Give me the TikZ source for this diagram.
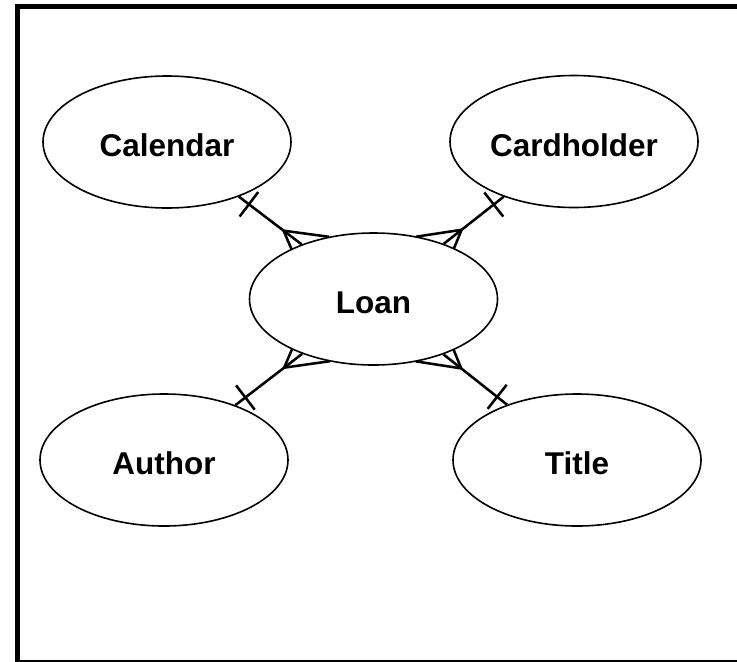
\documentclass[tikz,border=0pt]{standalone}
\usepackage{fontspec}
\setmainfont{Liberation Sans}
\usetikzlibrary{shapes.geometric,calc,backgrounds}

\begin{document}
\begin{tikzpicture}[
  x=0.75pt,y=-0.75pt,
  entity/.style={draw,ellipse,line width=1.2pt,fill=white,inner sep=0pt,
    minimum width=186pt,minimum height=99pt,text height=22pt,text depth=0pt,
    font=\fontsize{23.6}{28}\selectfont\bfseries},
  link/.style={line width=1.9pt},
  frame/.style={line width=3.75pt}
]
  \useasboundingbox (0,0) rectangle (737,661);
  \begin{scope}
    \clip (0,0) rectangle (737,661);
    \draw[frame] (17.5,6.7) rectangle (742,662.5);
  \end{scope}

  \node[entity] (loan) at (373.5,299) {Loan};
  \node[entity] (calendar) at (167,142) {Calendar};
  \node[entity] (cardholder) at (574,141.5) {Cardholder};
  \node[entity] (author) at (164,460) {Author};
  \node[entity] (title) at (577,460) {Title};

  % bar on the outer entity, crow's foot on loan
  \begin{scope}[on background layer]
    \foreach \one in {calendar,cardholder,author,title} {
      \path (\one) -- (loan) coordinate[pos=0] (s) coordinate[pos=1] (e);
      \draw[link] (\one) -- (loan);
      \draw[link] ($(s)!9.5pt!(e)!11.5pt!90:(e)$) -- ($(s)!9.5pt!(e)!11.5pt!-90:(e)$);
      \coordinate (foot) at ($(e)!17pt!(s)$);
      \draw[link] ($(foot)!30pt!(loan.center)!17pt!90:(loan.center)$) -- (foot)
        -- ($(foot)!30pt!(loan.center)!17pt!-90:(loan.center)$);
    }
  \end{scope}
\end{tikzpicture}
\end{document}
